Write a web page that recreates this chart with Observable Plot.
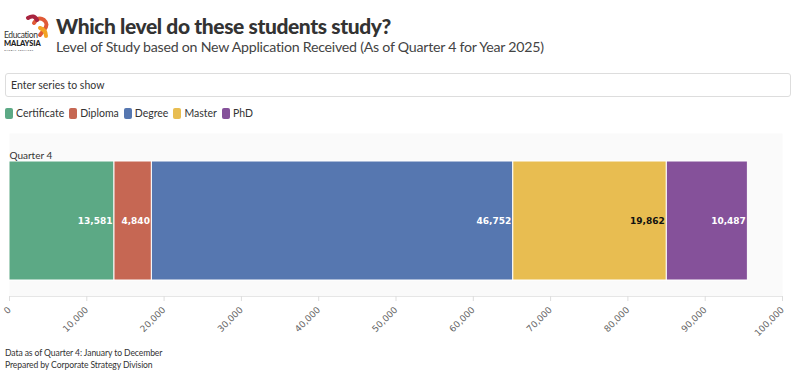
<!DOCTYPE html>
<html>
<head>
<meta charset="utf-8">
<script src="https://cdn.jsdelivr.net/npm/d3@7"></script>
<script src="https://cdn.jsdelivr.net/npm/@observablehq/plot@0.6"></script>
<style>
  html, body { margin: 0; padding: 0; background: #fff; }
  body { width: 800px; height: 373px; overflow: hidden; font-family: Lato, "Open Sans", sans-serif; color: #333; position: relative; }
  #header { position: absolute; left: 0; top: 0; width: 800px; height: 62px; }
  #logo { position: absolute; left: 4px; top: 14px; }
  #title { position: absolute; left: 56px; top: 13px; font-size: 21px; font-weight: 900; color: #333; white-space: nowrap; letter-spacing: -0.4px; }
  #subtitle { position: absolute; left: 56px; top: 38px; font-size: 14.2px; color: #444; white-space: nowrap; letter-spacing: -0.25px; }
  #search { position: absolute; left: 5px; top: 73px; width: 784px; height: 22px; border: 1px solid #ddd; border-radius: 3px; box-sizing: content-box; font-size: 10.5px; color: #333; line-height: 22px; }
  #search span { margin-left: 5px; }
  #legend { position: absolute; left: 5px; top: 107px; display: flex; gap: 5px; font-size: 10.5px; color: #333; align-items: center; }
  #legend .item { display: flex; align-items: center; gap: 3px; }
  #legend .sw { width: 8px; height: 11px; border-radius: 2px; display: inline-block; }
  #chart { position: absolute; left: 0; top: 125px; }
  #footer { position: absolute; left: 5px; top: 348px; font-size: 8.6px; color: #333; line-height: 11.5px; letter-spacing: -0.1px; }
</style>
</head>
<body>
<div id="header">
  <svg id="logo" width="50" height="38" viewBox="0 0 50 38">
    <path d="M30 9 q4 -7 10 -3 q5 4 0 10 l-4 5" fill="none" stroke="#e05a36" stroke-width="4" stroke-linecap="round"/>
    <path d="M24 4 q6 -4 9 2" fill="none" stroke="#a8243f" stroke-width="4" stroke-linecap="round"/>
    <path d="M36 14 q6 2 6 8" fill="none" stroke="#f3a423" stroke-width="4" stroke-linecap="round"/>
    <text x="0" y="24" font-size="8.5" font-family="Lato, sans-serif" fill="#333" letter-spacing="-0.4">Education</text>
    <text x="0" y="32" font-size="7.5" font-weight="900" font-family="Lato, sans-serif" fill="#222" letter-spacing="-0.1">MALAYSIA</text>
    <text x="0" y="36.5" font-size="2.6" font-family="Lato, sans-serif" fill="#444" letter-spacing="0.5">GLOBAL SERVICES</text>
  </svg>
  <div id="title">Which level do these students study?</div>
  <div id="subtitle">Level of Study based on New Application Received (As of Quarter 4 for Year 2025)</div>
</div>
<div id="search"><span>Enter series to show</span></div>
<div id="legend"></div>
<div id="chart"></div>
<div id="footer">Data as of Quarter 4: January to December<br>Prepared by Corporate Strategy Division</div>
<script>
const categories = ["Quarter 4"];
const levels = ["Certificate", "Diploma", "Degree", "Master", "PhD"];
const values = [13581, 4840, 46752, 19862, 10487];
const colors = ["#5ca985", "#c66753", "#5677b0", "#e8bd51", "#85519a"];
const labelColors = ["#ffffff", "#ffffff", "#ffffff", "#111111", "#ffffff"];
const xTicks = [0, 10000, 20000, 30000, 40000, 50000, 60000, 70000, 80000, 90000, 100000];

const data = levels.map((l, i) => ({category: categories[0], level: l, value: values[i], labelColor: labelColors[i]}));

// legend
const legend = document.getElementById("legend");
levels.forEach((l, i) => {
  const it = document.createElement("div");
  it.className = "item";
  it.innerHTML = `<span class="sw" style="background:${colors[i]}"></span><span>${l}</span>`;
  legend.appendChild(it);
});

const fmt = d3.format(",");
const chart = Plot.plot({
  width: 800,
  height: 215,
  marginLeft: 9,
  marginRight: 18,
  marginTop: 8,
  marginBottom: 44,
  style: {fontFamily: "Lato, 'Open Sans', sans-serif", background: "transparent"},
  x: {domain: [0, 100000]},
  y: {domain: categories, padding: 0, axis: null},
  color: {domain: levels, range: colors},
  marks: [
    Plot.frame({fill: "#fafafa", stroke: null}),
    Plot.frame({anchor: "bottom", stroke: "#e6e6e6"}),
    Plot.barX(data, Plot.stackX({x: "value", y: "category", fill: "level", order: levels, stroke: "#ffffff", strokeWidth: 1, insetTop: 28, insetBottom: 16})),
    Plot.text(data, Plot.stackX2({x: "value", y: "category", z: "level", order: levels, text: d => fmt(d.value), fill: "labelColor", textAnchor: "end", dx: -2, dy: 6, fontSize: 9, fontWeight: "bold", fontFamily: "'DejaVu Sans', sans-serif"})),
    Plot.text(categories, {x: () => 0, y: d => d, text: d => d, textAnchor: "start", dy: -59, fontSize: 10, fill: "#333"}),
    Plot.axisX({ticks: xTicks, tickFormat: fmt, tickRotate: -45, tickSize: 5, stroke: "#dddddd", fill: "#666", fontSize: 9, fontFamily: "'DejaVu Sans', sans-serif", label: null})
  ]
});
document.getElementById("chart").appendChild(chart);
</script>
</body>
</html>
